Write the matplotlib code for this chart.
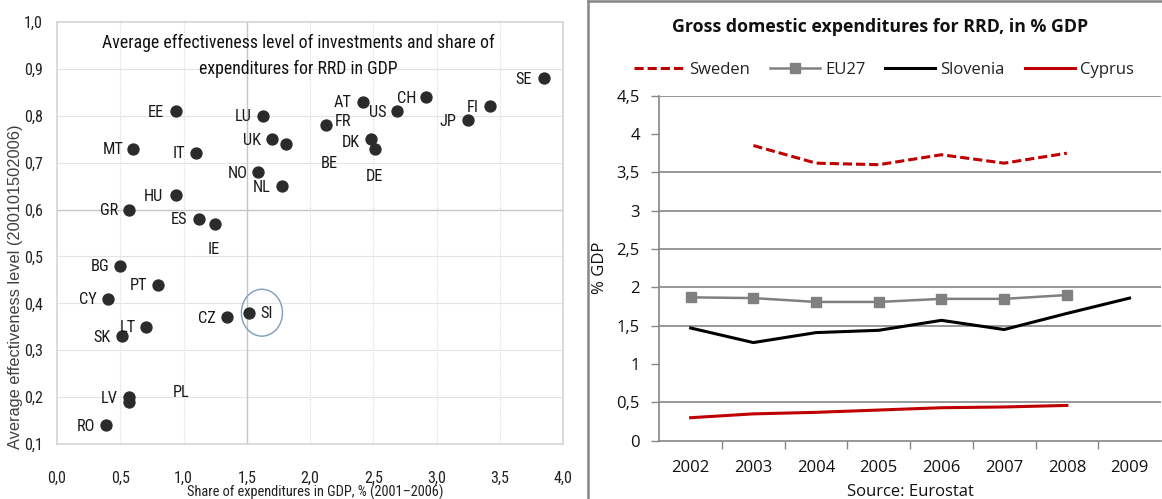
import numpy as np
import matplotlib.pyplot as plt
from matplotlib import font_manager
from matplotlib.font_manager import FontProperties
from matplotlib.patches import Ellipse
from matplotlib.lines import Line2D
from matplotlib.ticker import FuncFormatter

# --- scatter: effectiveness level vs. share of R&D expenditure in GDP ---
countries = ['EE', 'LU', 'UK', 'BE', 'MT', 'IT', 'NO', 'NL', 'HU', 'GR', 'ES', 'IE',
             'SE', 'AT', 'US', 'CH', 'FI', 'JP', 'FR', 'DK', 'DE',
             'BG', 'PT', 'CY', 'CZ', 'SI', 'LT', 'SK', 'LV', 'PL', 'RO']
share_gdp = [0.94, 1.63, 1.70, 1.81, 0.60, 1.10, 1.59, 1.78, 0.94, 0.57, 1.12, 1.25,
             3.85, 2.42, 2.69, 2.92, 3.42, 3.25, 2.13, 2.48, 2.51,
             0.50, 0.80, 0.40, 1.34, 1.52, 0.70, 0.51, 0.57, 0.57, 0.39]
effectiveness = [0.81, 0.80, 0.75, 0.74, 0.73, 0.72, 0.68, 0.65, 0.63, 0.60, 0.58, 0.57,
                 0.88, 0.83, 0.81, 0.84, 0.82, 0.79, 0.78, 0.75, 0.73,
                 0.48, 0.44, 0.41, 0.37, 0.38, 0.35, 0.33, 0.20, 0.19, 0.14]

# --- line chart: gross domestic expenditure on R&D, % of GDP ---
years = ['2002', '2003', '2004', '2005', '2006', '2007', '2008', '2009']
sweden = [np.nan, 3.85, 3.62, 3.60, 3.73, 3.62, 3.75, np.nan]
eu27 = [1.87, 1.86, 1.81, 1.81, 1.85, 1.85, 1.90, np.nan]
slovenia = [1.47, 1.28, 1.41, 1.44, 1.57, 1.45, 1.66, 1.86]
cyprus = [0.30, 0.35, 0.37, 0.40, 0.43, 0.44, 0.46, np.nan]

# label placement relative to each dot (pixels, y up)
label_offset = {'FR': (17, 4), 'SI': (17, -1), 'BE': (43, -20), 'IE': (-1, -26),
                'DE': (0, -28), 'PL': (52, 9), 'HU': (-23, -1), 'IT': (-17, 0),
                'FI': (-17, -1), 'DK': (-20, -3), 'LT': (-18, -1)}


def pick_narrow_font():
    # prefer an Arial Narrow look-alike, else any condensed sans, else Arial metrics
    fonts = font_manager.fontManager.ttflist
    regular = [f for f in fonts if f.style == 'normal' and f.weight in (400, 'normal', 'regular')]
    for want in ('Liberation Sans Narrow', 'Arial Narrow', 'Roboto Condensed'):
        for f in regular:
            if f.name == want:
                return FontProperties(fname=f.fname), 1.0
    for f in regular:
        if 'Sans' in f.name and (f.stretch in ('condensed', 'semi-condensed')
                                 or 'Condensed' in f.name) and 'DejaVu' not in f.name:
            return FontProperties(fname=f.fname), 1.0
    return FontProperties(family='Liberation Sans'), 0.86


narrow, k = pick_narrow_font()


def nfont(size):
    fp = narrow.copy()
    fp.set_size(size * k)
    return fp


W, H = 1162, 499
fig = plt.figure(figsize=(W / 100, H / 100), dpi=100)
calib = ['Open Sans', 'DejaVu Sans']


def comma(v, pos=None, digits=1):
    return f'{v:.{digits}f}'.replace('.', ',')


# ------------------------------------------------------------ left chart
ax1 = fig.add_axes([57 / W, 1 - 444 / H, 506 / W, 422 / H])
ax1.set_xlim(0, 4)
ax1.set_ylim(0.1, 1.0)
ax1.set_xticks(np.arange(0, 4.01, 0.5))
ax1.set_yticks(np.arange(0.1, 1.01, 0.1))
ax1.xaxis.set_major_formatter(FuncFormatter(comma))
ax1.yaxis.set_major_formatter(FuncFormatter(comma))
ax1.tick_params(length=0, labelcolor='#222222')
ax1.tick_params(axis='x', pad=19)
ax1.tick_params(axis='y', pad=10)
for lab in ax1.get_xticklabels() + ax1.get_yticklabels():
    lab.set_fontproperties(nfont(11.5))
for s in ax1.spines.values():
    s.set_color('#d4d4d4')
    s.set_linewidth(1.2)

for xv in np.arange(0.5, 4.0, 0.5):
    if abs(xv - 1.5) > 1e-6:
        ax1.axvline(xv, color='#dcdcdc', lw=0.8, ls=(0, (1, 1)), zorder=0)
for yv in np.arange(0.2, 1.0, 0.1):
    if abs(yv - 0.6) > 1e-6:
        ax1.axhline(yv, color='#e4e4e4', lw=0.8, zorder=0)
ax1.axvline(1.5, color='#c6c6c6', lw=1.0, zorder=0)
ax1.axhline(0.6, color='#c6c6c6', lw=1.0, zorder=0)

ax1.scatter(share_gdp, effectiveness, s=62, color='#2b2b2b', zorder=3)
for name, xv, yv in zip(countries, share_gdp, effectiveness):
    dx, dy = label_offset.get(name, (-20, -1))
    ax1.annotate(name, (xv, yv), xytext=(dx, dy), textcoords='offset pixels',
                 ha='center', va='center', fontproperties=nfont(11.8),
                 color='#1a1a1a')

si = countries.index('SI')
ax1.add_patch(Ellipse((share_gdp[si] + 0.10, effectiveness[si]), 0.325, 0.10,
                      fill=False, edgecolor='#7f9cc0', lw=1.0, zorder=4))

ax1.text(0.477, 0.92, 'Average effectiveness level of investments and share of\n'
         'expenditures for RRD in GDP', transform=ax1.transAxes, ha='center',
         va='center', fontproperties=nfont(12.8), linespacing=1.55, color='#111111')

fig.text(16 / W, 1 - 287 / H, 'Average effectiveness level (200101502006)',
         rotation=90, ha='center', va='center', fontsize=11.8,
         family=['Liberation Sans', 'DejaVu Sans'], color='#404040')
fig.text(315 / W, 1 - 492 / H, 'Share of expenditures in GDP, % (2001\u20132006)',
         ha='center', va='center', fontproperties=nfont(10.4), color='#222222')

# ------------------------------------------------------------ right chart
ax2 = fig.add_axes([659.3 / W, 1 - 440.7 / H, 501.6 / W, 345 / H])
x = np.arange(len(years))
ax2.set_xlim(-0.5, len(years) - 0.5)
ax2.set_ylim(0, 4.5)
ax2.set_yticks(np.arange(0, 4.51, 0.5))
ax2.yaxis.set_major_formatter(FuncFormatter(
    lambda v, p: str(int(v)) if v == int(v) else comma(v)))
ax2.set_xticks(x)
ax2.set_xticklabels(years)
ax2.set_xticks(x[:-1] + 0.5, minor=True)
ax2.tick_params(axis='x', which='major', length=0, pad=14)
ax2.tick_params(axis='x', which='minor', length=6, color='#868686', width=1)
ax2.tick_params(axis='y', length=6, color='#868686', width=1, pad=8)
ax2.tick_params(labelsize=12, labelcolor='#111111')
for lab in ax2.get_xticklabels() + ax2.get_yticklabels():
    lab.set_family(calib)
for side in ('top', 'right'):
    ax2.spines[side].set_visible(False)
for side in ('left', 'bottom'):
    ax2.spines[side].set_color('#868686')
    ax2.spines[side].set_linewidth(1.2)
for yv in [0.5, 1.5, 2.0, 2.5, 3.0, 3.5, 4.5]:
    ax2.axhline(yv, color='#868686', lw=1.2, zorder=0)

ax2.plot(x, sweden, color='#c00000', lw=2.2, ls=(0, (3, 1.3)), label='Sweden')
ax2.plot(x, eu27, color='#808080', lw=1.8, marker='s', ms=7, label='EU27')
ax2.plot(x, slovenia, color='#000000', lw=2.2, label='Slovenia')
ax2.plot(x, cyprus, color='#c00000', lw=2.2, label='Cyprus')

ax2.set_ylabel('% GDP', fontsize=12, family=calib, labelpad=6, color='#111111')
ax2.set_xlabel('Source: Eurostat', fontsize=12, family=calib, labelpad=6,
               color='#111111')

fig.legend(loc='center', bbox_to_anchor=(884 / W, 1 - 70 / H), ncol=4,
           frameon=False, handlelength=3.0, handletextpad=0.3, columnspacing=1.2,
           prop={'family': calib, 'size': 12}, labelcolor='#222222')
fig.text(880 / W, 1 - 27 / H, 'Gross domestic expenditures for RRD, in % GDP',
         ha='center', va='center', fontsize=12.8, fontweight='bold',
         family=calib, color='#111111')

# frame around the right panel
fig.add_artist(Line2D([588 / W, 588 / W], [0, 1 - 1 / H], transform=fig.transFigure,
                      color='#868686', lw=1.8))
fig.add_artist(Line2D([588 / W, 1], [1 - 1 / H, 1 - 1 / H], transform=fig.transFigure,
                      color='#868686', lw=1.8))

fig.savefig('out.png', dpi=100)
